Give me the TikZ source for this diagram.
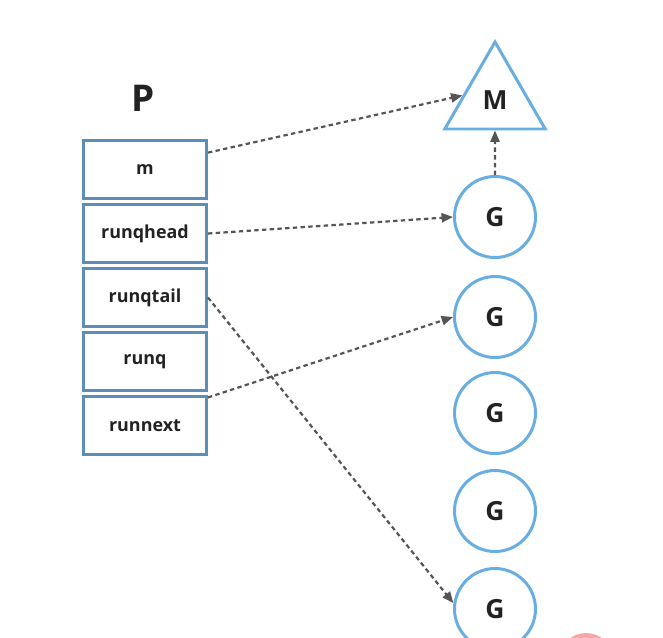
\documentclass[tikz,border=0pt]{standalone}
\usepackage{fontspec}
\setsansfont{Open Sans}
\usetikzlibrary{arrows.meta,shapes.geometric,positioning}
\definecolor{boxblue}{HTML}{5B8FBA}
\definecolor{gblue}{HTML}{68AEE0}
\definecolor{txt}{HTML}{222222}
\definecolor{arr}{HTML}{555555}
\definecolor{blot}{HTML}{F6A7A7}

\begin{document}
\begin{tikzpicture}[x=0.02cm, y=-0.02cm,
  field/.style={draw=boxblue, line width=1.7pt, minimum width=2.46cm, minimum height=1.16cm,
    inner sep=0pt, font=\sffamily\bfseries\fontsize{10.2}{12}\selectfont, text=txt},
  gnode/.style={circle, draw=gblue, line width=1.7pt, minimum size=1.62cm, inner sep=0pt,
    font=\sffamily\bfseries\fontsize{15}{18}\selectfont, text=txt},
  link/.style={arr, line width=1.25pt, dash pattern=on 2.5pt off 1.9pt,
    -{Triangle[length=6.5pt,width=5.2pt]}}]
\clip (0,0) rectangle (663,637);
\fill[white] (0,0) rectangle (663,637);
\fill[blot] (586,660) circle (27);
\node[font=\sffamily\bfseries\fontsize{21}{24}\selectfont, text=txt] (ptitle) at (143,98) {P};
\foreach \i/\l in {1/m,2/runqhead,3/runqtail,4/runq,5/runnext} {
  \node[field] (b\i) at (145,105.5+64*\i) {\l};
}
\node[regular polygon, regular polygon sides=3, draw=gblue, line width=1.7pt, minimum size=2.32cm,
  inner sep=0pt, font=\sffamily\bfseries\fontsize{15}{18}\selectfont, text=txt] (mach) at (495,100) {M};
\foreach \i/\y in {1/217,2/317,3/413,4/511,5/609} {
  \node[gnode] (g\i) at (495,\y) {G};
}
\draw[link] (b1.15) -- (mach.172);
\draw[link] (b2.east) -- (g1.west);
\draw[link] (b3.east) -- (g5.172);
\draw[link] (b5.24) -- (g2.west);
\draw[link] (g1.north) -- (mach.south);
\end{tikzpicture}
\end{document}
